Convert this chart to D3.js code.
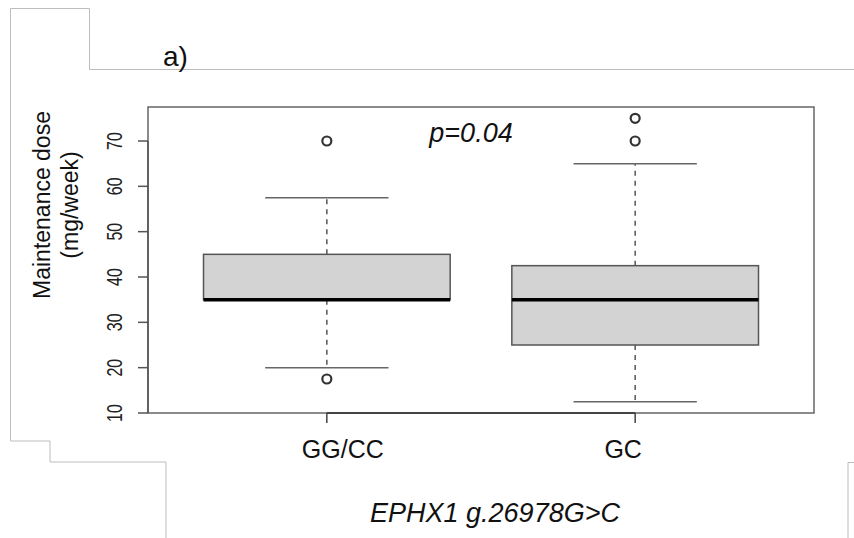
<!DOCTYPE html>
<html>
<head>
<meta charset="utf-8">
<script src="https://cdn.jsdelivr.net/npm/d3@7"></script>
<style>
  html, body { margin: 0; padding: 0; background: #fff; }
  svg { display: block; font-family: "Liberation Sans", Arial, Helvetica, sans-serif; }
</style>
</head>
<body>
<svg id="chart" width="854" height="538"></svg>
<script>
// ---- data ----
const categories = ["GG/CC", "GC"];
const whiskerLow = [20, 12.5];
const q1 = [35, 25];
const median = [35, 35];
const q3 = [45, 42.5];
const whiskerHigh = [57.5, 65];
const outliers = [[70, 17.5], [75, 70]];
const yTicks = [10, 20, 30, 40, 50, 60, 70];
const pLabel = "p=0.04";
const yTitle = ["Maintenance dose", "(mg/week)"];
const xTitle = "EPHX1 g.26978G>C";
const panelLabel = "a)";

// ---- layout ----
const plot = { left: 148, right: 814, top: 107, bottom: 413 };
const svg = d3.select("#chart");

const x = d3.scaleLinear().domain([0.42, 2.58]).range([plot.left, plot.right]);
const y = d3.scaleLinear().domain([10, 77.5]).range([plot.bottom, plot.top]);
const boxHalf = 0.4, stapleHalf = 0.2;

// decorative frame lines
const frame = svg.append("g").attr("fill", "none").attr("stroke", "#bdbdbd").attr("stroke-width", 1);
frame.append("path").attr("d", "M166,538 V462 H50 V441 H10.5 V8.5 H89.5 V69.5 H854");
frame.append("path").attr("d", "M848,538 V462.5 H854");

// panel label
svg.append("text").attr("x", 163).attr("y", 66).attr("font-size", 28).attr("fill", "#111").text(panelLabel);

// plot box
svg.append("rect")
  .attr("x", plot.left).attr("y", plot.top)
  .attr("width", plot.right - plot.left).attr("height", plot.bottom - plot.top)
  .attr("fill", "none").attr("stroke", "#666").attr("stroke-width", 1.5);

// boxes
const groups = svg.append("g");
categories.forEach((c, i) => {
  const cx = x(i + 1);
  const g = groups.append("g");
  // whiskers (dashed)
  g.append("line").attr("x1", cx).attr("x2", cx).attr("y1", y(q3[i])).attr("y2", y(whiskerHigh[i]))
    .attr("stroke", "#555").attr("stroke-width", 1.5).attr("stroke-dasharray", "5,5");
  g.append("line").attr("x1", cx).attr("x2", cx).attr("y1", y(q1[i])).attr("y2", y(whiskerLow[i]))
    .attr("stroke", "#555").attr("stroke-width", 1.5).attr("stroke-dasharray", "5,5");
  // staples
  [whiskerLow[i], whiskerHigh[i]].forEach(v => {
    g.append("line").attr("x1", x(i + 1 - stapleHalf)).attr("x2", x(i + 1 + stapleHalf))
      .attr("y1", y(v)).attr("y2", y(v)).attr("stroke", "#666").attr("stroke-width", 1.5);
  });
  // box
  g.append("rect")
    .attr("x", x(i + 1 - boxHalf)).attr("y", y(q3[i]))
    .attr("width", x(i + 1 + boxHalf) - x(i + 1 - boxHalf))
    .attr("height", y(q1[i]) - y(q3[i]))
    .attr("fill", "#d3d3d3").attr("stroke", "#555").attr("stroke-width", 1.5);
  // median
  g.append("line").attr("x1", x(i + 1 - boxHalf)).attr("x2", x(i + 1 + boxHalf))
    .attr("y1", y(median[i])).attr("y2", y(median[i])).attr("stroke", "#000").attr("stroke-width", 3.5);
  // outliers
  outliers[i].forEach(v => {
    g.append("circle").attr("cx", cx).attr("cy", y(v)).attr("r", 4.5)
      .attr("fill", "none").attr("stroke", "#333").attr("stroke-width", 2.2);
  });
});

// y axis (R style)
const yAxis = svg.append("g");
yAxis.append("line").attr("x1", plot.left).attr("x2", plot.left)
  .attr("y1", y(yTicks[0])).attr("y2", y(yTicks[yTicks.length - 1]))
  .attr("stroke", "#555").attr("stroke-width", 1.5);
yTicks.forEach(t => {
  yAxis.append("line").attr("x1", plot.left - 10).attr("x2", plot.left)
    .attr("y1", y(t)).attr("y2", y(t)).attr("stroke", "#555").attr("stroke-width", 1.5);
  yAxis.append("text")
    .attr("transform", `translate(${plot.left - 26},${y(t)}) rotate(-90) scale(1,1.35)`)
    .attr("text-anchor", "middle").attr("font-size", 16).attr("fill", "#222")
    .text(t);
});

// x axis (R style)
const xAxis = svg.append("g");
xAxis.append("line").attr("x1", x(1)).attr("x2", x(categories.length))
  .attr("y1", plot.bottom).attr("y2", plot.bottom).attr("stroke", "#444").attr("stroke-width", 2);
const labelShift = [16, -12];
categories.forEach((c, i) => {
  xAxis.append("line").attr("x1", x(i + 1)).attr("x2", x(i + 1))
    .attr("y1", plot.bottom).attr("y2", plot.bottom + 10).attr("stroke", "#444").attr("stroke-width", 1.5);
  xAxis.append("text").attr("x", x(i + 1) + labelShift[i]).attr("y", 458)
    .attr("text-anchor", "middle").attr("font-size", 25).attr("fill", "#111")
    .text(c);
});

// y title
yTitle.forEach((line, k) => {
  svg.append("text")
    .attr("transform", `translate(${50 + k * 28},${205}) rotate(-90) scale(1,1.08)`)
    .attr("text-anchor", "middle").attr("font-size", 23).attr("fill", "#111")
    .text(line);
});

// x title
svg.append("text").attr("x", 495).attr("y", 522).attr("text-anchor", "middle")
  .attr("font-size", 27).attr("font-style", "italic").attr("fill", "#111").text(xTitle);

// p value
svg.append("text").attr("x", 471).attr("y", 142).attr("text-anchor", "middle")
  .attr("font-size", 27).attr("font-style", "italic").attr("fill", "#111").text(pLabel);
</script>
</body>
</html>
